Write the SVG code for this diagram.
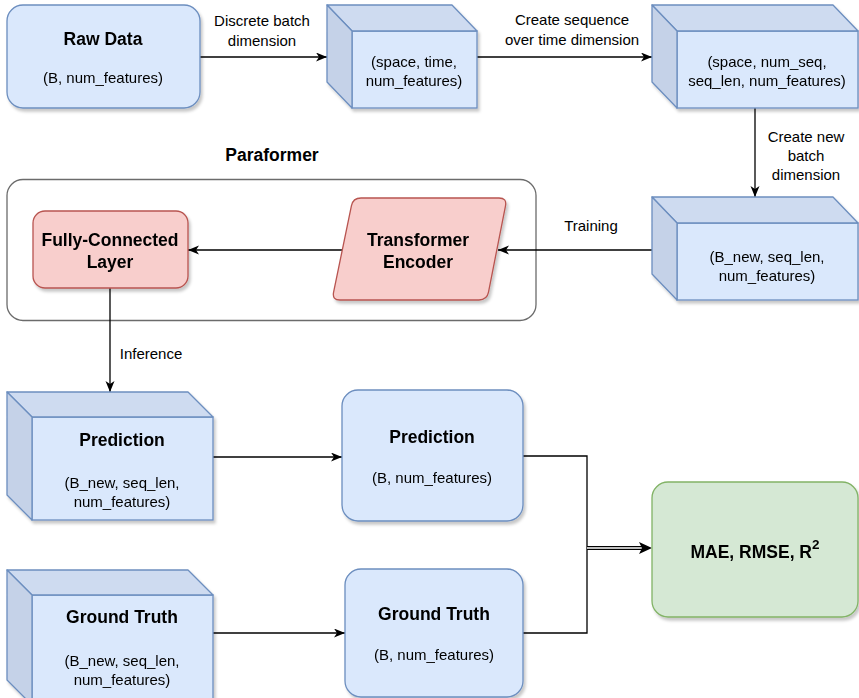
<svg xmlns="http://www.w3.org/2000/svg" width="859" height="698" viewBox="0 0 859 698">
<defs>
<filter id="sh" x="-10%" y="-10%" width="125%" height="125%">
<feDropShadow dx="2" dy="3" stdDeviation="1.6" flood-color="#000" flood-opacity="0.22"/>
</filter>
<marker id="arr" markerUnits="userSpaceOnUse" markerWidth="12" markerHeight="10" refX="11" refY="4.5" orient="auto">
<path d="M0,0 L11,4.5 L0,9 L3,4.5 Z" fill="#000"/>
</marker>
</defs>
<style>
text{font-family:"Liberation Sans",Arial,sans-serif;fill:#000;}
.t{font-size:15px;text-anchor:middle;}
.b{font-size:17.5px;font-weight:bold;text-anchor:middle;}
.blue{fill:#dae8fc;stroke:#6c8ebf;stroke-width:1.3;}
.top{fill:#cedbf0;stroke:#6c8ebf;stroke-width:1.3;stroke-linejoin:round;}
.side{fill:#c5d2e8;stroke:#6c8ebf;stroke-width:1.3;stroke-linejoin:round;}
.red{fill:#f8cecc;stroke:#b85450;stroke-width:1.3;}
.green{fill:#d5e8d4;stroke:#82b366;stroke-width:1.3;}
.e{fill:none;stroke:#000;stroke-width:1.3;}
</style>

<g id="paraformer">
<rect x="7" y="179.5" width="529" height="141" rx="16" fill="none" stroke="#6b6b6b" stroke-width="1.3"/>
<text class="b" x="272" y="161">Paraformer</text>
</g>

<g id="connectors">
<line class="e" x1="200" y1="57" x2="327" y2="57" marker-end="url(#arr)"/>
<line class="e" x1="477" y1="57" x2="652" y2="57" marker-end="url(#arr)"/>
<line class="e" x1="755" y1="108" x2="755" y2="197" marker-end="url(#arr)"/>
<line class="e" x1="652" y1="250" x2="498" y2="250" marker-end="url(#arr)"/>
<line class="e" x1="342" y1="250" x2="188" y2="250" marker-end="url(#arr)"/>
<line class="e" x1="110" y1="288" x2="110" y2="392" marker-end="url(#arr)"/>
<line class="e" x1="213" y1="457" x2="342" y2="457" marker-end="url(#arr)"/>
<line class="e" x1="213" y1="633" x2="345" y2="633" marker-end="url(#arr)"/>
<polyline class="e" points="523,456 587,456 587,548"/>
<polyline class="e" points="523,633 587,633 587,548"/>
<line x1="587" y1="548" x2="644" y2="548" stroke="#000" stroke-width="4"/>
<line x1="587" y1="548" x2="643" y2="548" stroke="#fff" stroke-width="1.4"/>
<path d="M639,542 L652,548 L639,554 L642,548 Z" fill="#000"/>
<text class="t" x="262" y="26">Discrete batch</text>
<text class="t" x="262" y="46">dimension</text>
<text class="t" x="572" y="25">Create sequence</text>
<text class="t" x="572" y="45">over time dimension</text>
<text class="t" x="806" y="142">Create new</text>
<text class="t" x="806" y="161">batch</text>
<text class="t" x="806" y="180">dimension</text>
<text class="t" x="591" y="231">Training</text>
<text class="t" x="151" y="359">Inference</text>
</g>

<g id="raw-data" filter="url(#sh)">
<rect class="blue" x="7" y="5" width="193" height="103" rx="16"/>
<text class="b" x="103" y="45">Raw Data</text>
<text class="t" x="103" y="83">(B, num_features)</text>
</g>

<g id="cube-space-time" filter="url(#sh)">
<rect class="blue" x="352" y="31" width="125" height="77"/>
<path class="top" d="M327,5 L452,5 L477,31 L352,31 Z"/>
<path class="side" d="M327,5 L352,31 L352,108 L327,82 Z"/>
<text class="t" x="414" y="67">(space, time,</text>
<text class="t" x="414" y="86">num_features)</text>
</g>

<g id="cube-space-numseq" filter="url(#sh)">
<rect class="blue" x="677" y="31" width="181" height="77"/>
<path class="top" d="M652,5 L833,5 L858,31 L677,31 Z"/>
<path class="side" d="M652,5 L677,31 L677,108 L652,82 Z"/>
<text class="t" x="767" y="67">(space, num_seq,</text>
<text class="t" x="767" y="86">seq_len, num_features)</text>
</g>

<g id="cube-bnew" filter="url(#sh)">
<rect class="blue" x="677" y="223" width="181" height="77"/>
<path class="top" d="M652,197 L833,197 L858,223 L677,223 Z"/>
<path class="side" d="M652,197 L677,223 L677,300 L652,274 Z"/>
<text class="t" x="767" y="262">(B_new, seq_len,</text>
<text class="t" x="767" y="281">num_features)</text>
</g>

<g id="transformer-encoder" filter="url(#sh)">
<path class="red" d="M361,198 L499,198 Q507,198 505.5,205.8 L488.5,292.2 Q487,300 479,300 L340,300 Q332,300 333.6,292.2 L351.4,205.8 Q353,198 361,198 Z"/>
<text class="b" x="418" y="246">Transformer</text>
<text class="b" x="418" y="268">Encoder</text>
</g>

<g id="fully-connected" filter="url(#sh)">
<rect class="red" x="33" y="211" width="155" height="77" rx="12"/>
<text class="b" x="110" y="246">Fully-Connected</text>
<text class="b" x="110" y="268">Layer</text>
</g>

<g id="prediction-cube" filter="url(#sh)">
<rect class="blue" x="32" y="417" width="181" height="103"/>
<path class="top" d="M7,392 L188,392 L213,417 L32,417 Z"/>
<path class="side" d="M7,392 L32,417 L32,520 L7,495 Z"/>
<text class="b" x="122" y="446">Prediction</text>
<text class="t" x="122" y="488">(B_new, seq_len,</text>
<text class="t" x="122" y="507">num_features)</text>
</g>

<g id="prediction-box" filter="url(#sh)">
<rect class="blue" x="342" y="390" width="181" height="131" rx="16"/>
<text class="b" x="432" y="443">Prediction</text>
<text class="t" x="432" y="483">(B, num_features)</text>
</g>

<g id="groundtruth-cube" filter="url(#sh)">
<rect class="blue" x="32" y="595" width="181" height="110"/>
<path class="top" d="M7,570 L188,570 L213,595 L32,595 Z"/>
<path class="side" d="M7,570 L32,595 L32,705 L7,680 Z"/>
<text class="b" x="122" y="623">Ground Truth</text>
<text class="t" x="122" y="666">(B_new, seq_len,</text>
<text class="t" x="122" y="685">num_features)</text>
</g>

<g id="groundtruth-box" filter="url(#sh)">
<rect class="blue" x="345" y="569" width="178" height="128" rx="16"/>
<text class="b" x="434" y="620">Ground Truth</text>
<text class="t" x="434" y="660">(B, num_features)</text>
</g>

<g id="metrics" filter="url(#sh)">
<rect class="green" x="652" y="482" width="206" height="135" rx="16"/>
<text class="b" x="755" y="558">MAE, RMSE, R<tspan font-size="13.5" dy="-9">2</tspan></text>
</g>
</svg>
